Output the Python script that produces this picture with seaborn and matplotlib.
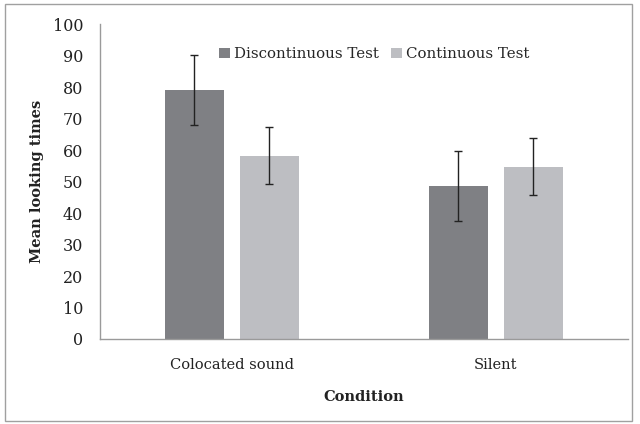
import matplotlib.pyplot as plt
import matplotlib.patches as mpatches
import seaborn as sns
import pandas as pd

conditions = ['Colocated sound', 'Silent']
tests = ['Discontinuous Test', 'Continuous Test']
discontinuous = [79.0, 48.5]
continuous = [58.2, 54.7]
discontinuous_err = [11.1, 11.1]
continuous_err = [9.0, 9.0]
palette = ['#7f8084', '#bdbec2']

df = pd.DataFrame({
    'Condition': conditions * 2,
    'Test': [tests[0]] * 2 + [tests[1]] * 2,
    'value': discontinuous + continuous,
    'err': discontinuous_err + continuous_err,
})

sns.set_theme(style="white")
plt.rcParams['font.family'] = ['DejaVu Serif']

fig = plt.figure(figsize=(6.4, 4.24), dpi=100)
ax = fig.add_axes([0.156, 0.2005, 0.825, 0.7425])

sns.barplot(data=df, x='Condition', y='value', hue='Test', order=conditions,
            hue_order=tests, palette=palette, width=0.57, gap=0.22,
            saturation=1, errorbar=None, ax=ax, linewidth=0)

# error bars from the same arrays, placed on the bar centres
for cont, vals, errs in zip(ax.containers, [discontinuous, continuous],
                            [discontinuous_err, continuous_err]):
    xs = [p.get_x() + p.get_width() / 2 for p in cont.patches]
    ax.errorbar(xs, vals, yerr=errs, fmt='none', ecolor='#222222',
                elinewidth=1, capsize=3, capthick=1)

ax.set_ylim(0, 100)
ax.set_xlim(-0.5, 1.5)
ax.set_yticks(range(0, 101, 10))
ax.tick_params(axis='both', length=0, colors='#222222')
ax.tick_params(axis='x', pad=14, labelsize=10.5)
ax.tick_params(axis='y', pad=12, labelsize=11.5)
for s in ['top', 'right']:
    ax.spines[s].set_visible(False)
for s in ['left', 'bottom']:
    ax.spines[s].set_color('#9a9a9a')
    ax.spines[s].set_linewidth(1)

ax.set_xlabel('Condition', fontsize=10.5, fontweight='bold', labelpad=13, color='#222222')
ax.set_ylabel('Mean looking times', fontsize=10.5, fontweight='bold', labelpad=6, color='#222222')

ax.legend(loc='center', bbox_to_anchor=(0.52, 0.905), ncol=2, frameon=False,
          fontsize=10.8, handlelength=0.7, handleheight=0.7, handletextpad=0.3,
          columnspacing=0.8, title=None)

fig.patches.append(mpatches.Rectangle((0.008, 0.008), 0.979, 0.983, transform=fig.transFigure,
                                      fill=False, edgecolor='#a0a0a0', linewidth=1))

fig.savefig('out.png', dpi=100)
